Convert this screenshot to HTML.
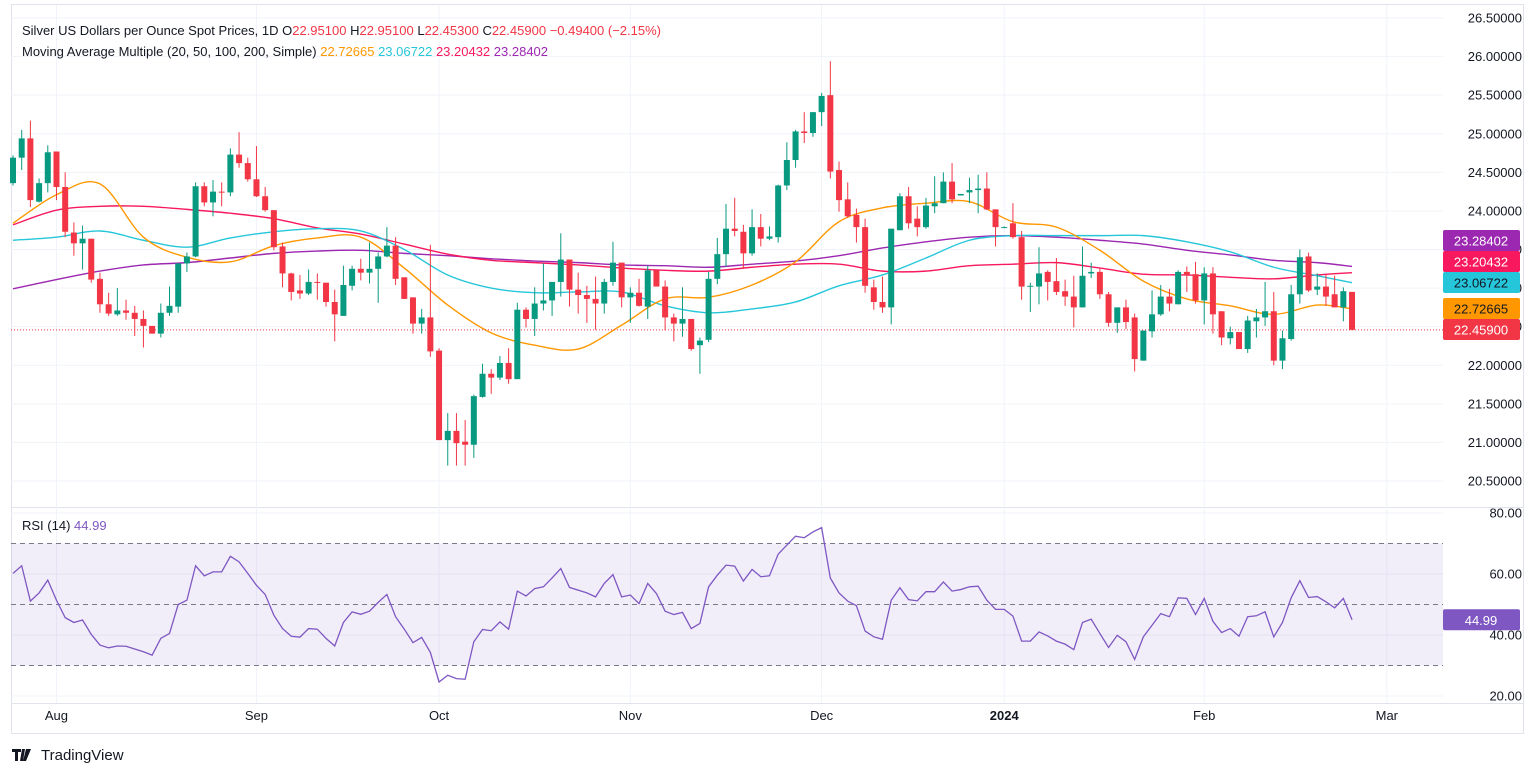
<!DOCTYPE html>
<html><head><meta charset="utf-8">
<style>
html,body{margin:0;padding:0;background:#fff;}
svg{display:block;font-family:"Liberation Sans",sans-serif;}
</style></head>
<body>
<svg id="chart" width="1536" height="776" viewBox="0 0 1536 776" xmlns="http://www.w3.org/2000/svg">
<g id="grid"></g>
<g id="rsi"></g>
<g id="mas"></g>
<g id="candles"></g>
<g id="axes"></g>
<g font-size="13">
<text x="22" y="35" fill="#131722">Silver US Dollars per Ounce Spot Prices, 1D <tspan fill="#131722">O</tspan><tspan fill="#f23645">22.95100</tspan> <tspan fill="#131722">H</tspan><tspan fill="#f23645">22.95100</tspan> <tspan fill="#131722">L</tspan><tspan fill="#f23645">22.45300</tspan> <tspan fill="#131722">C</tspan><tspan fill="#f23645">22.45900</tspan> <tspan fill="#f23645">−0.49400 (−2.15%)</tspan></text>
<text x="22" y="56" fill="#131722">Moving Average Multiple (20, 50, 100, 200, Simple) <tspan fill="#ff9800">22.72665</tspan> <tspan fill="#26c6da">23.06722</tspan> <tspan fill="#f7185e">23.20432</tspan> <tspan fill="#9c27b0">23.28402</tspan></text>
<text x="22" y="530" fill="#131722">RSI (14) <tspan fill="#7e57c2">44.99</tspan></text>
</g>
<g>
<path d="M12 749h9v3h-3v9h-3v-9h-3z M22 749h3l-2 12h-3z M26 749h5l-5 12h-3z" fill="#131722"/>
<text x="41" y="760" font-size="15" fill="#131722">TradingView</text>
</g>
</svg>
<script>
const O=[24.36,24.69,24.94,24.12,24.36,24.77,24.31,23.72,23.58,23.64,23.12,22.79,22.66,22.71,22.68,22.6,22.51,22.41,22.68,22.76,23.32,23.41,24.32,24.11,24.25,24.24,24.73,24.62,24.41,24.19,24.01,23.54,23.19,22.97,22.93,23.08,23.07,22.82,22.64,23.03,23.25,23.2,23.25,23.41,23.55,23.14,22.88,22.54,22.62,22.19,21.03,21.15,21.01,20.97,21.59,21.89,21.84,22.03,21.82,22.72,22.6,22.8,22.84,23.08,23.37,22.98,22.91,22.86,22.8,23.08,23.33,22.88,22.94,22.76,23.23,23.02,22.62,22.54,22.6,22.26,22.33,23.12,23.44,23.77,23.73,23.45,23.79,23.64,23.66,24.33,24.66,25.03,25.01,25.28,25.5,24.53,24.15,23.95,23.79,23.01,22.82,22.75,23.75,24.19,23.9,23.79,24.06,24.1,24.38,24.2,24.24,24.27,24.29,24.02,23.79,23.84,23.66,23.02,23.02,23.21,23.09,22.96,22.89,22.75,23.19,23.21,22.92,22.55,22.75,22.62,22.06,22.44,22.66,22.89,22.79,23.21,23.18,22.84,23.19,22.7,22.35,22.43,22.21,22.57,22.62,22.7,22.06,22.34,22.92,23.41,22.98,23.02,22.92,22.75,22.951];
const H=[24.72,25.05,25.17,24.42,24.85,24.77,24.5,23.85,23.81,23.64,23.2,22.94,23.0,22.85,22.77,22.71,22.51,22.8,23.02,23.32,23.46,24.37,24.37,24.4,24.37,24.81,25.02,24.69,24.84,24.31,24.01,23.59,23.2,23.17,23.24,23.19,23.07,22.98,23.29,23.29,23.38,23.59,23.46,23.79,23.66,23.14,22.88,22.73,23.56,22.22,21.38,21.38,21.29,21.62,22.02,21.95,22.12,22.22,22.81,22.75,23.01,23.32,23.08,23.71,23.37,23.2,23.03,23.15,23.12,23.6,23.33,23.01,23.12,23.29,23.23,23.1,22.67,23.01,22.6,22.36,23.21,23.65,24.09,24.17,23.82,24.02,23.96,23.8,24.34,24.89,25.05,25.28,25.28,25.53,25.94,24.64,24.37,24.03,23.9,23.11,23.15,23.77,24.23,24.31,24.06,24.17,24.45,24.5,24.62,24.22,24.43,24.47,24.5,24.02,23.8,24.1,23.74,23.07,23.53,23.23,23.39,23.11,23.16,23.54,23.33,23.25,22.95,22.75,22.85,22.67,22.45,22.97,23.04,22.99,23.23,23.28,23.34,23.27,23.27,22.7,22.5,22.43,22.64,22.73,23.08,22.95,22.45,23.04,23.5,23.46,23.19,23.17,23.16,23.01,22.951];
const L=[24.33,24.53,24.05,24.11,24.24,24.14,23.66,23.42,23.24,23.07,22.68,22.64,22.64,22.59,22.38,22.23,22.41,22.36,22.64,22.68,23.21,23.4,24.06,23.93,24.06,24.19,24.56,24.38,24.18,23.99,23.49,23.01,22.84,22.86,22.91,22.85,22.76,22.31,22.64,22.97,23.1,23.06,22.81,23.4,23.04,22.86,22.41,22.41,22.11,21.03,20.7,20.7,20.7,20.8,21.58,21.63,21.81,21.76,21.82,22.49,22.38,22.71,22.64,22.89,22.76,22.67,22.55,22.46,22.67,23.03,22.75,22.55,22.76,22.6,23.02,22.45,22.31,22.37,22.19,21.89,22.3,23.05,23.28,23.67,23.25,23.42,23.54,23.62,23.59,24.27,24.56,24.88,24.96,25.1,24.42,23.99,23.91,23.59,22.94,22.72,22.68,22.53,23.75,23.77,23.67,23.77,23.97,24.1,24.1,24.2,24.1,23.97,24.01,23.54,23.78,23.64,22.85,22.69,22.79,22.84,22.91,22.77,22.49,22.75,23.13,22.86,22.5,22.42,22.47,21.92,22.06,22.36,22.64,22.7,22.79,22.95,22.8,22.53,22.41,22.26,22.27,22.21,22.16,22.36,22.51,22.0,21.95,22.32,22.8,22.95,22.91,22.77,22.75,22.57,22.453];
const C=[24.69,24.94,24.14,24.36,24.76,24.31,23.73,23.58,23.64,23.11,22.79,22.67,22.71,22.68,22.6,22.51,22.41,22.68,22.77,23.32,23.41,24.32,24.11,24.25,24.24,24.73,24.62,24.41,24.19,24.01,23.53,23.19,22.95,22.93,23.08,23.07,22.82,22.66,23.04,23.25,23.2,23.25,23.41,23.55,23.12,22.86,22.54,22.62,22.18,21.03,21.15,20.99,20.97,21.6,21.89,21.84,22.03,21.82,22.72,22.6,22.8,22.84,23.08,23.37,22.98,22.91,22.86,22.8,23.08,23.33,22.88,22.94,22.77,23.23,23.02,22.62,22.54,22.6,22.21,22.32,23.12,23.44,23.77,23.74,23.45,23.79,23.64,23.67,24.33,24.66,25.03,25.01,25.28,25.49,24.51,24.14,23.93,23.79,23.03,22.82,22.75,23.77,24.19,23.84,23.79,24.07,24.1,24.38,24.15,24.22,24.27,24.29,24.02,23.79,23.79,23.66,23.02,23.03,23.19,23.08,22.95,22.89,22.75,23.16,23.21,22.92,22.55,22.75,22.56,22.08,22.45,22.66,22.89,22.8,23.21,23.17,22.84,23.19,22.66,22.36,22.43,22.21,22.58,22.62,22.7,22.06,22.35,22.92,23.4,22.97,23.02,22.89,22.75,22.96,22.459];
const maIndex=[0,5,10,15,20,25,30,35,40,45,50,55,60,65,70,75,80,85,90,95,100,105,110,115,120,125,130,135,140,145,150,154];
const ma20=[23.84,24.21,24.35,23.66,23.40,23.34,23.55,23.65,23.66,23.26,22.78,22.42,22.26,22.21,22.52,22.86,22.88,23.04,23.34,23.86,24.04,24.10,24.12,23.86,23.79,23.49,23.09,22.86,22.77,22.66,22.78,22.73];
const ma50=[23.62,23.66,23.74,23.62,23.53,23.65,23.73,23.77,23.74,23.50,23.17,23.00,22.94,22.95,22.95,22.77,22.68,22.73,22.82,23.03,23.17,23.39,23.62,23.68,23.68,23.68,23.68,23.60,23.47,23.27,23.16,23.07];
const ma100=[23.82,24.01,24.06,24.06,24.02,23.97,23.90,23.78,23.70,23.57,23.44,23.36,23.33,23.30,23.26,23.23,23.22,23.27,23.31,23.31,23.22,23.22,23.29,23.31,23.33,23.26,23.18,23.17,23.14,23.12,23.17,23.20];
const ma200=[22.99,23.11,23.22,23.30,23.33,23.39,23.45,23.48,23.49,23.45,23.42,23.38,23.35,23.33,23.30,23.29,23.27,23.31,23.35,23.42,23.52,23.60,23.66,23.68,23.66,23.62,23.57,23.49,23.43,23.36,23.33,23.28];
const rsi=[60.2,62.7,51.1,53.8,58.0,51.4,45.7,44.1,44.9,40.2,36.7,35.8,36.4,36.3,35.4,34.5,33.4,38.9,40.5,50.0,51.4,62.7,59.4,60.7,60.7,65.8,64.0,60.2,56.3,53.3,46.5,42.1,39.6,39.3,42.1,41.9,38.9,36.4,44.1,47.6,46.8,47.8,50.7,53.3,46.0,41.9,37.5,39.2,34.3,24.6,26.8,25.7,25.5,37.8,41.8,41.4,44.3,41.9,54.4,52.8,55.2,55.8,58.7,61.8,55.6,54.7,53.8,52.5,56.9,59.8,52.5,53.1,50.3,56.9,53.6,47.8,46.7,47.4,42.1,
43.8,55.8,59.6,62.9,62.6,57.7,61.5,59.1,59.4,66.5,69.5,72.4,71.9,73.8,75.2,58.7,53.8,51.1,49.6,41.3,39.4,38.6,51.4,55.5,51.6,51.2,54.2,54.2,57.4,54.4,54.9,55.8,56.0,51.4,48.4,48.4,46.2,38.0,38.0,41.0,39.7,38.0,37.0,35.2,44.1,45.2,40.5,35.9,39.9,37.8,32.0,39.4,43.2,47.0,46.0,52.2,52.0,46.7,52.0,44.5,40.8,42.1,39.6,46.0,46.3,47.6,39.4,44.1,52.2,57.8,52.3,52.6,50.9,48.9,52.0,44.99];
const priceTicks=[26.5,26,25.5,25,24.5,24,23.5,23,22.5,22,21.5,21,20.5];
const rsiTicks=[80,60,40,20];
const monthLabels=["Aug","Sep","Oct","Nov","Dec","2024","Feb","Mar"];
const monthIdx=[5,28,49,71,93,114,137,158];

const NS="http://www.w3.org/2000/svg";
const x=i=>13+i*8.695;
const y=p=>18+(26.5-p)*77.17;
const ry=v=>513+(80-v)*3.05;
function mk(tag,attrs,parent){const e=document.createElementNS(NS,tag);for(const k in attrs)e.setAttribute(k,attrs[k]);parent.appendChild(e);return e;}
const grid=document.getElementById('grid'),axes=document.getElementById('axes'),cg=document.getElementById('candles'),mg=document.getElementById('mas'),rg=document.getElementById('rsi');

// frame
let fr=mk('rect',{x:11.5,y:4.5,width:1512,height:729,fill:'none',stroke:'#e0e3eb'},grid);


let sep=mk('line',{x1:11,x2:1524,y1:507.5,y2:507.5,stroke:'#e0e3eb','stroke-width':1},grid);


let ax=mk('line',{x1:11,x2:1524,y1:703.5,y2:703.5,stroke:'#e0e3eb'},grid);



priceTicks.forEach(p=>{
  const l=mk('line',{x1:11,x2:1443,y1:y(p),y2:y(p),stroke:'#f0f3fa'},grid);
  
  
  const t=mk('text',{x:1522,y:y(p)+4.5,'text-anchor':'end','font-size':13,fill:'#131722'},axes);
  t.textContent=p.toFixed(5);
  
  
});
rsiTicks.forEach(v=>{
  const l=mk('line',{x1:11,x2:1443,y1:ry(v),y2:ry(v),stroke:'#f0f3fa'},grid);
  
  
  const t=mk('text',{x:1522,y:ry(v)+4.5,'text-anchor':'end','font-size':13,fill:'#131722'},axes);
  t.textContent=v.toFixed(2);
  
  
});
monthLabels.forEach((m,k)=>{
  const xx=x(monthIdx[k])+ (k===0?0:0);
  const l=mk('line',{x1:xx,x2:xx,y1:5,y2:703,stroke:'#f0f3fa'},grid);
  
  
  const t=mk('text',{x:xx,y:720,'text-anchor':'middle','font-size':13,fill:'#131722','font-weight':m==='2024'?'bold':'normal'},axes);
  t.textContent=m;
  
  
});

// RSI band
const band=mk('rect',{x:11,y:ry(70),width:1432,height:ry(30)-ry(70),fill:'#7e57c2','fill-opacity':0.1},rg);


[70,50,30].forEach(v=>{
  const l=mk('line',{x1:11,x2:1443,y1:ry(v),y2:ry(v),stroke:'#787b86','stroke-dasharray':'5 4','stroke-width':1},rg);
  
  
});
const rl=mk('polyline',{points:rsi.map((v,i)=>x(i)+','+ry(v)).join(' '),fill:'none',stroke:'#7e57c2','stroke-width':1.3},rg);



// MAs
function smooth(vals){
  const pts=vals.map((v,k)=>[x(maIndex[k]),y(v)]);
  let d='M'+pts[0][0]+','+pts[0][1];
  for(let k=0;k<pts.length-1;k++){
    const p0=pts[k-1]||pts[k],p1=pts[k],p2=pts[k+1],p3=pts[k+2]||p2;
    const c1=[p1[0]+(p2[0]-p0[0])/6,p1[1]+(p2[1]-p0[1])/6],c2=[p2[0]-(p3[0]-p1[0])/6,p2[1]-(p3[1]-p1[1])/6];
    d+=' C'+c1+' '+c2+' '+p2;
  }
  return d;
}
[[ma200,'#9c27b0','ma200-line'],[ma100,'#f7185e','ma100-line'],[ma50,'#26c6da','ma50-line'],[ma20,'#ff9800','ma20-line']].forEach(([a,c,n])=>{
  const p=mk('path',{d:smooth(a),fill:'none',stroke:c,'stroke-width':1.4},mg);
  
  
});

// last price line
const last=C[C.length-1];
const lp=mk('line',{x1:11,x2:1443,y1:y(last),y2:y(last),stroke:'#f23645','stroke-dasharray':'1 2','stroke-width':1},mg);



// candles
C.forEach((c,i)=>{
  const o=O[i],up=c>=o,col=up?'#089981':'#f23645',cx=x(i);
  const w=mk('line',{x1:cx,x2:cx,y1:y(H[i]),y2:y(L[i]),stroke:col,'stroke-width':1},cg);
  
  
  const top=y(Math.max(o,c)),bh=Math.max(1,Math.abs(y(o)-y(c)));
  const b=mk('rect',{x:cx-3,y:top,width:6,height:bh,fill:col},cg);
  
  
});

// right tags
const tags=[[ma200[ma200.length-1],'23.28402','#9c27b0','#fff',230],[ma100[ma100.length-1],'23.20432','#f7185e','#fff',251],[ma50[ma50.length-1],'23.06722','#26c6da','#131722',272],[ma20[ma20.length-1],'22.72665','#ff9800','#131722',298],[last,'22.45900','#f23645','#fff',319]];
tags.forEach(t=>{
  const r=mk('rect',{x:1443,y:t[4],width:77,height:21,rx:2,fill:t[2]},axes);
  
  
  const tx=mk('text',{x:1481,y:t[4]+15.5,'text-anchor':'middle','font-size':13,fill:t[3]},axes);
  tx.textContent=t[1];
  
  
});
const rt=mk('rect',{x:1443,y:ry(44.99)-10.5,width:77,height:21,rx:2,fill:'#7e57c2'},axes);


const rtt=mk('text',{x:1481,y:ry(44.99)+5,'text-anchor':'middle','font-size':13,fill:'#fff'},axes);
rtt.textContent='44.99';


</script>
</body></html>
